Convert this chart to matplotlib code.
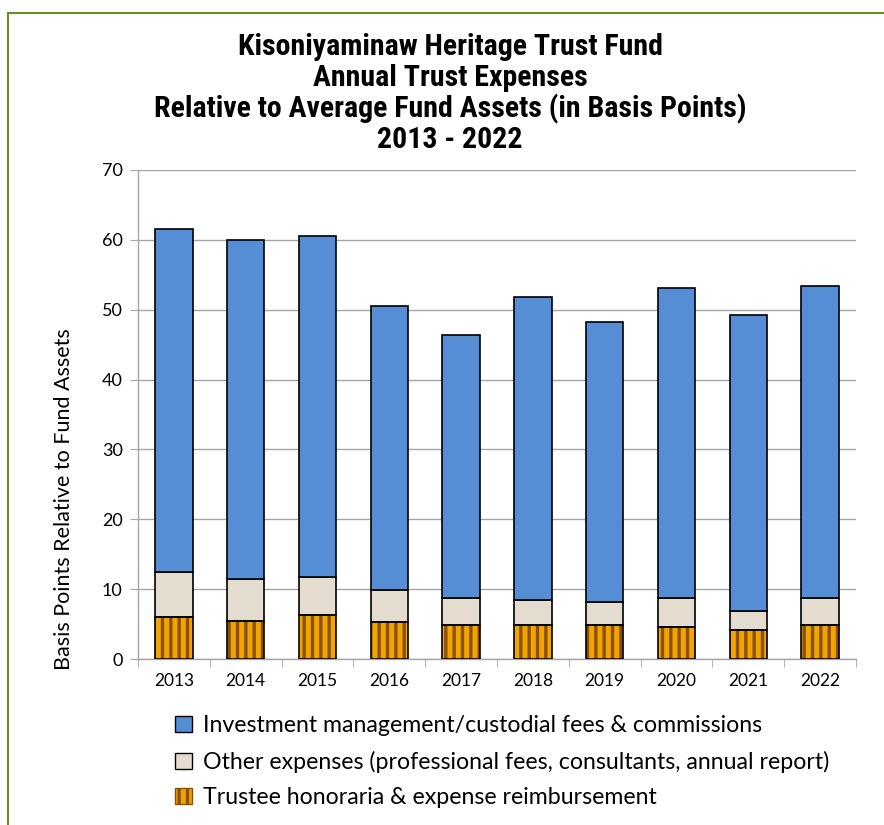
import matplotlib
matplotlib.use("Agg")
import matplotlib.pyplot as plt
import matplotlib.patches as mpatches
import numpy as np

years = ["2013", "2014", "2015", "2016", "2017", "2018", "2019", "2020", "2021", "2022"]
trustee = [6.0, 5.5, 6.3, 5.3, 4.8, 4.8, 4.8, 4.6, 4.2, 4.8]
other = [6.4, 6.0, 5.4, 4.6, 3.9, 3.7, 3.4, 4.1, 2.6, 3.9]
investment = [49.1, 48.5, 48.8, 40.7, 37.7, 43.3, 40.0, 44.4, 42.4, 44.7]

legend_labels = [
    "Investment management/custodial fees & commissions",
    "Other expenses (professional fees, consultants, annual report)",
    "Trustee honoraria & expense reimbursement",
]
title_lines = [
    "Kisoniyaminaw Heritage Trust Fund",
    "Annual Trust Expenses",
    "Relative to Average Fund Assets (in Basis Points)",
    "2013 - 2022",
]

plt.rcParams["font.family"] = ["Lato", "DejaVu Sans"]
plt.rcParams["hatch.linewidth"] = 2.4

W, H = 884, 825
fig = plt.figure(figsize=(W / 100, H / 100), dpi=100)
ax = fig.add_axes([138 / W, 1 - 659 / H, (856 - 138) / W, (659 - 170) / H])

x = np.arange(len(years))
bw = 0.52
c_inv = "#558ED5"
c_oth = "#E4DCCE"
c_tru = "#F2A400"

t = np.array(trustee)
o = np.array(other)
inv = np.array(investment)

# trustee segment with vertical stripes
ax.bar(x, t, bw, color=c_tru, edgecolor="#8A5200", hatch="||", linewidth=0, zorder=3)
ax.bar(x, t, bw, fill=False, edgecolor="black", linewidth=1.2, zorder=4)
ax.bar(x, o, bw, bottom=t, color=c_oth, edgecolor="black", linewidth=1.2, zorder=3)
ax.bar(x, inv, bw, bottom=t + o, color=c_inv, edgecolor="black", linewidth=1.2, zorder=3)

ax.set_xlim(-0.5, len(years) - 0.5)
ax.set_ylim(0, 70)
ax.set_yticks(np.arange(0, 71, 10))
ax.yaxis.grid(True, color="#A6A6A6", linewidth=1.0, zorder=0)
ax.set_axisbelow(True)
for s in ["top", "right"]:
    ax.spines[s].set_visible(False)
for s in ["left", "bottom"]:
    ax.spines[s].set_color("#A6A6A6")
    ax.spines[s].set_linewidth(1.0)

ax.set_xticks(x)
ax.set_xticklabels(years, fontsize=12.5)
ax.tick_params(axis="x", length=0, pad=10)
ax.set_xticks(np.arange(-0.5, len(years), 1), minor=True)
ax.tick_params(axis="x", which="minor", length=6, color="#A6A6A6", direction="out")
ax.tick_params(axis="y", length=6, color="#A6A6A6", labelsize=13, pad=5)

fig.text(64 / W, 1 - 499 / H, "Basis Points Relative to Fund Assets", rotation=90,
         ha="center", va="center", fontsize=15.5)

for i, line in enumerate(title_lines):
    fig.text(450 / W, 1 - (47 + i * 31) / H, line, ha="center", va="center",
             fontsize=21.5, fontweight="bold",
             family=["Liberation Sans Narrow", "Roboto Condensed", "DejaVu Sans"])

handles = [
    mpatches.Patch(facecolor=c_inv, edgecolor="black", linewidth=1),
    mpatches.Patch(facecolor=c_oth, edgecolor="black", linewidth=1),
    mpatches.Patch(facecolor=c_tru, edgecolor="#8A5200", hatch="||", linewidth=1),
]
fig.legend(handles, legend_labels, loc="upper left", bbox_to_anchor=(166 / W, 1 - 706 / H),
           frameon=False, fontsize=16.7, handlelength=0.7, handleheight=0.7,
           labelspacing=0.62, handletextpad=0.5, borderaxespad=0)

border = mpatches.Rectangle((8 / W, -0.05), 1.2, 1 - 13 / H + 0.05, transform=fig.transFigure,
                            fill=False, edgecolor="#6B8E23", linewidth=1.5)
fig.patches.append(border)

fig.savefig("out.png", dpi=100)
